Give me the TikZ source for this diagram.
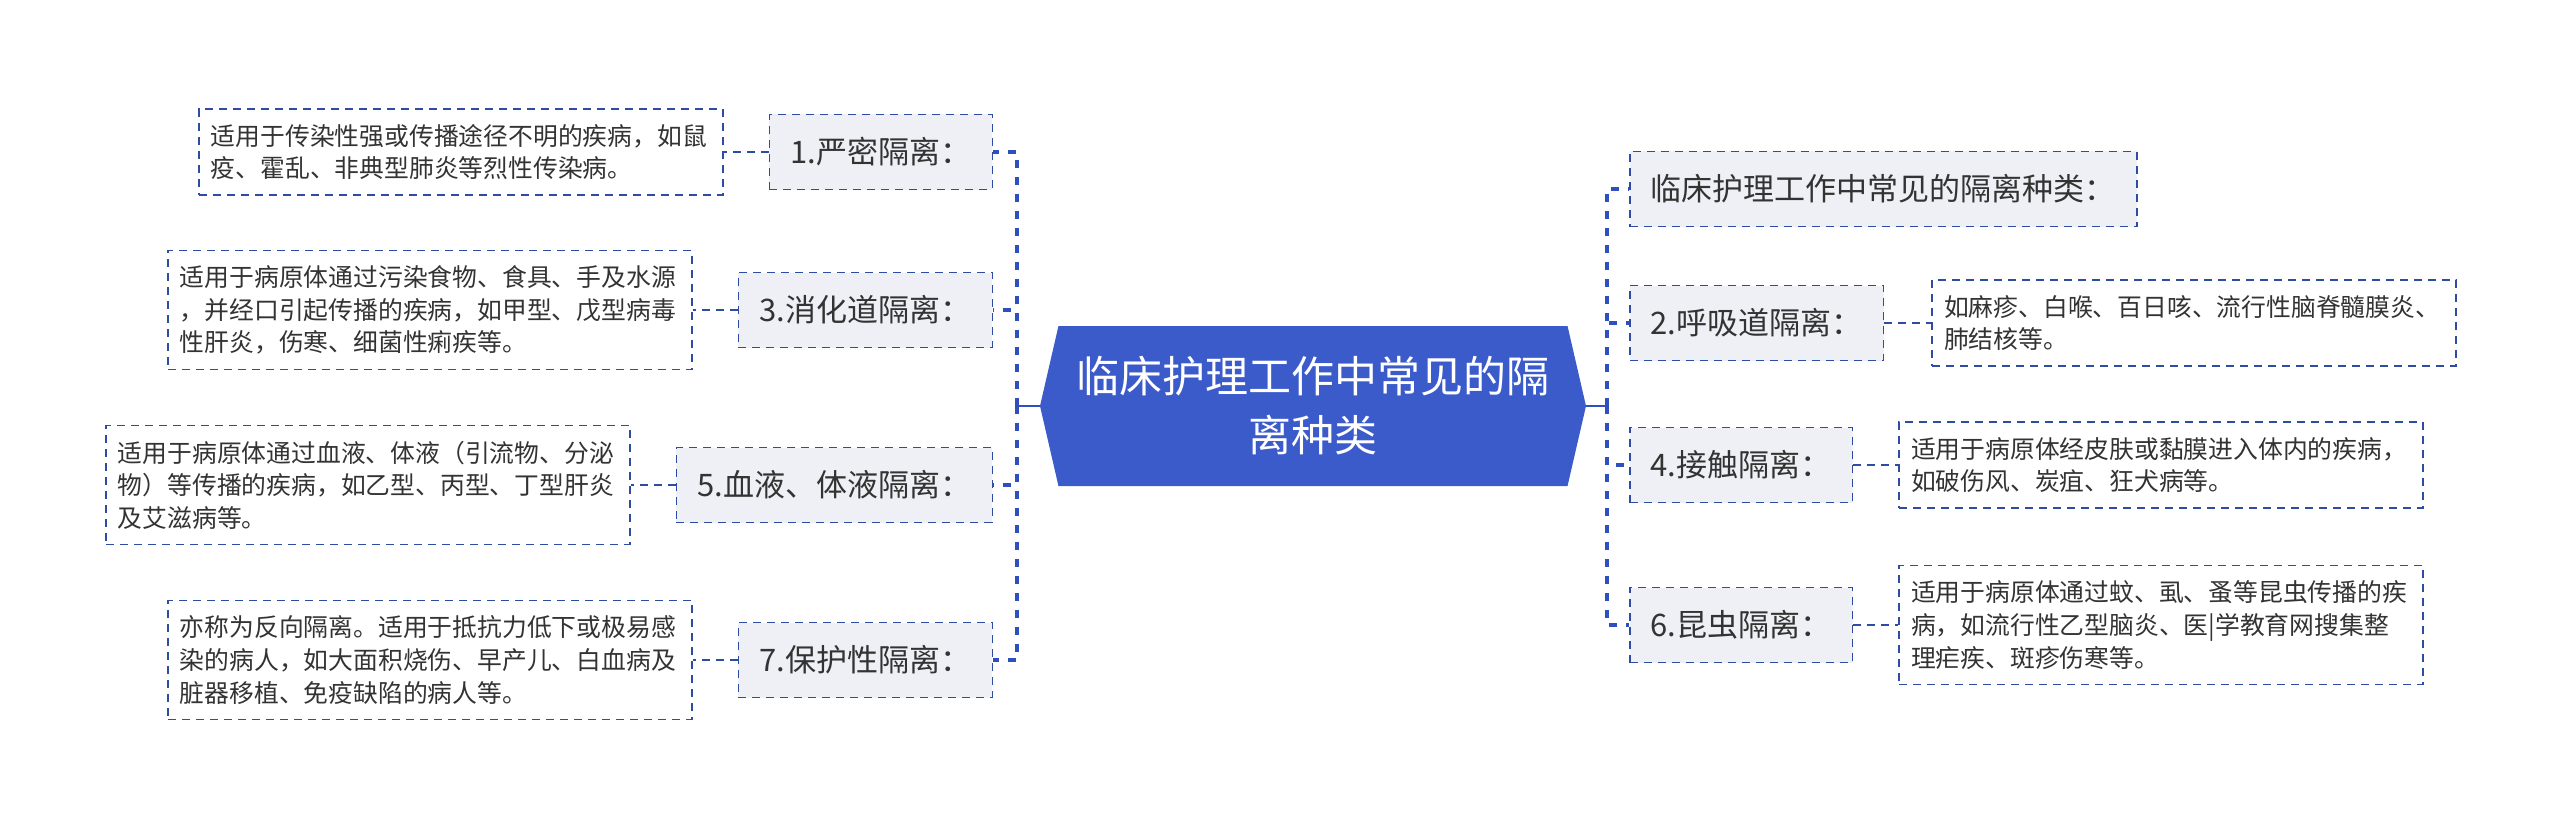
\documentclass[tikz,border=0pt]{standalone}
\usepackage{fontspec}
\setmainfont{Noto Sans CJK SC}
\usepackage{tikz}
\usetikzlibrary{positioning,shapes.symbols}
\definecolor{rootblue}{HTML}{3C5BCB}
\definecolor{linkblue}{HTML}{2F4FBE}
\definecolor{edgeblue}{HTML}{2F4CA3}
\definecolor{topicbg}{HTML}{EEF0F5}
\definecolor{textgray}{HTML}{333333}
\tikzset{
  rootnode/.style={
    signal, signal to=west and east, signal pointer angle=154,
    fill=rootblue, text=white, minimum width=273pt, minimum height=80pt,
    align=center, inner sep=0pt, font=\fontsize{21.5pt}{29.5pt}\selectfont
  },
  topicnode/.style={
    rectangle, draw=edgeblue, line width=0.75pt, dash pattern=on 4pt off 3pt,
    fill=topicbg, text=textgray, minimum height=37.5pt, inner xsep=10.5pt,
    font=\fontsize{15.5pt}{18pt}\selectfont
  },
  descnode/.style={
    rectangle, draw=edgeblue, line width=0.75pt, dash pattern=on 4pt off 3pt,
    fill=white, text=textgray, text width=250pt, inner xsep=6pt, inner ysep=7.6pt,
    align=left, font=\fontsize{12.4pt}{16.3pt}\selectfont
  },
  trunkline/.style={draw=linkblue, line width=1.6pt, dash pattern=on 4pt off 4.5pt},
  stemline/.style={draw=linkblue, line width=1.3pt},
  leafline/.style={draw=edgeblue, line width=0.8pt, dash pattern=on 4pt off 3pt},
}
\begin{document}
\begin{tikzpicture}[x=0.5pt, y=-0.5pt, node distance=22.5pt]
  \useasboundingbox (0,0) rectangle (2560,829);
  \node[rootnode] (root) at (1313,406) {临床护理工作中常见的隔\\离种类};

  % left side
  \node[topicnode, anchor=east] (t1) at (993,152) {1.严密隔离：};
  \node[topicnode, anchor=east] (t3) at (993,310) {3.消化道隔离：};
  \node[topicnode, anchor=east] (t5) at (993,485) {5.血液、体液隔离：};
  \node[topicnode, anchor=east] (t7) at (993,660) {7.保护性隔离：};
  \node[descnode, left=of t1] (d1) {适用于传染性强或传播途径不明的疾病，如鼠\\疫、霍乱、非典型肺炎等烈性传染病。};
  \node[descnode, left=of t3] (d3) {适用于病原体通过污染食物、食具、手及水源\\，并经口引起传播的疾病，如甲型、戊型病毒\\性肝炎，伤寒、细菌性痢疾等。};
  \node[descnode, left=of t5] (d5) {适用于病原体通过血液、体液（引流物、分泌\\物）等传播的疾病，如乙型、丙型、丁型肝炎\\及艾滋病等。};
  \node[descnode, left=of t7] (d7) {亦称为反向隔离。适用于抵抗力低下或极易感\\染的病人，如大面积烧伤、早产儿、白血病及\\脏器移植、免疫缺陷的病人等。};

  % right side
  \node[topicnode, anchor=west] (t0) at (1629,189) {临床护理工作中常见的隔离种类：};
  \node[topicnode, anchor=west] (t2) at (1629,323) {2.呼吸道隔离：};
  \node[topicnode, anchor=west] (t4) at (1629,465) {4.接触隔离：};
  \node[topicnode, anchor=west] (t6) at (1629,625) {6.昆虫隔离：};
  \node[descnode, right=23.5pt of t2] (d2) {如麻疹、白喉、百日咳、流行性脑脊髓膜炎、\\肺结核等。};
  \node[descnode, right=of t4] (d4) {适用于病原体经皮肤或黏膜进入体内的疾病，\\如破伤风、炭疽、狂犬病等。};
  \node[descnode, right=of t6] (d6) {适用于病原体通过蚊、虱、蚤等昆虫传播的疾\\病，如流行性乙型脑炎、医|学教育网搜集整\\理疟疾、斑疹伤寒等。};

  \coordinate (lj) at (1017,406);
  \coordinate (rj) at (1607,406);
  \draw[stemline] (root.west) -- (lj);
  \draw[stemline] (root.east) -- (rj);
  \foreach \t in {t1,t3,t5,t7}
    \draw[trunkline] (lj) |- (\t.east);
  \foreach \t in {t0,t2,t4,t6}
    \draw[trunkline] (rj) |- (\t.west);
  \foreach \a/\b in {t1/d1,t3/d3,t5/d5,t7/d7}
    \draw[leafline] (\a.west) -- (\b.east);
  \foreach \a/\b in {t2/d2,t4/d4,t6/d6}
    \draw[leafline] (\a.east) -- (\b.west);
\end{tikzpicture}
\end{document}
